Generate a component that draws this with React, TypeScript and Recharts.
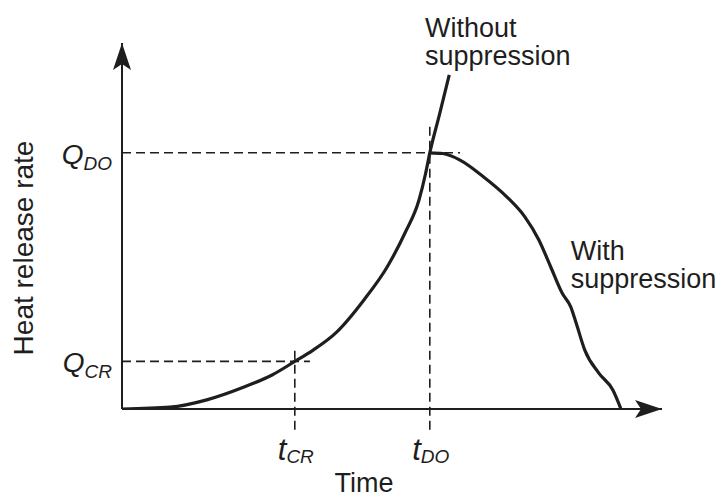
import React from 'react';
import { ComposedChart, Line, XAxis, YAxis, ReferenceLine, ReferenceDot } from 'recharts';

// ---- data (time and heat release rate in relative units, 0–100) ----
const growthTime = [0, 8.9, 15.7, 22.6, 27.8, 32, 35.4, 39.6, 44.8, 49.1, 52.4, 55.0, 56.2, 57, 58.8, 60.6];
const growthRate = [0, 0.5, 2.5, 6.0, 9.3, 13, 16.1, 20.8, 29.8, 38.8, 48.1, 57.1, 64.2, 70, 80.5, 91.3];

const suppressedTime = [57, 59.4, 62.6, 66.8, 71.3, 74.6, 77.2, 79.4, 81.5, 83.1, 84.1, 85.7, 88.3, 90.9, 92.4];
const suppressedRate = [70, 69.8, 68.0, 63.6, 57.9, 52.5, 46.2, 38.8, 31.7, 27.9, 23.5, 16.1, 9.8, 5.2, 0];

const criticalTimes = [32, 57];
const criticalTimeLabels = ['CR', 'DO'];
const criticalRates = [13, 70];
const criticalRateLabels = ['CR', 'DO'];

const axisMax = 100;

const withoutSuppression = growthTime.map((t, i) => ({ t, q: growthRate[i] }));
const withSuppression = suppressedTime.map((t, i) => ({ t, q: suppressedRate[i] }));

const FONT = '"Liberation Sans", Arial, Helvetica, sans-serif';
const INK = '#1e1e1e';

const ArrowUp = (p: any) => (
  <polygon
    points={`${p.cx},${p.cy} ${p.cx - 9},${p.cy + 27} ${p.cx},${p.cy + 21} ${p.cx + 9},${p.cy + 27}`}
    fill={INK}
  />
);
const ArrowRight = (p: any) => (
  <polygon
    points={`${p.cx},${p.cy} ${p.cx - 27},${p.cy - 9} ${p.cx - 21},${p.cy} ${p.cx - 27},${p.cy + 9}`}
    fill={INK}
  />
);

const TwoLine = (lines: string[]) => (p: any) => (
  <text x={p.cx} y={p.cy} fontFamily={FONT} fontSize={27} fill={INK}>
    {lines.map((l, i) => (
      <tspan key={i} x={p.cx} dy={i === 0 ? 0 : 28}>
        {l}
      </tspan>
    ))}
  </text>
);

const TimeTick = (props: any) => {
  const { x, y, payload } = props;
  const i = criticalTimes.indexOf(payload.value);
  return (
    <text x={x + 1} y={y + 51} textAnchor="middle" fontFamily={FONT} fontStyle="italic" fill={INK}>
      <tspan fontSize={31}>t</tspan>
      <tspan fontSize={19} dy={3}>{criticalTimeLabels[i]}</tspan>
    </text>
  );
};

const RateTick = (props: any) => {
  const { x, y, payload } = props;
  const i = criticalRates.indexOf(payload.value);
  return (
    <text x={x - 10} y={y + 11} textAnchor="end" fontFamily={FONT} fontStyle="italic" fill={INK}>
      <tspan fontSize={28}>Q</tspan>
      <tspan fontSize={19} dy={6}>{criticalRateLabels[i]}</tspan>
    </text>
  );
};

const dash = { stroke: INK, strokeWidth: 1.6, strokeDasharray: '9 5' };

export default function App() {
  return (
    <div style={{ position: 'absolute', left: 0, top: 0, width: 721, height: 497, background: '#fff' }}>
      <ComposedChart width={721} height={497} margin={{ top: 43, right: 59, bottom: 0, left: 0 }}>
        <XAxis
          type="number"
          dataKey="t"
          domain={[0, axisMax]}
          ticks={criticalTimes}
          tick={<TimeTick />}
          tickLine={false}
          tickSize={0}
          tickMargin={0}
          height={88}
          allowDataOverflow
          axisLine={{ stroke: INK, strokeWidth: 2 }}
          label={{
            content: (p: any) => {
              const vb = p.viewBox;
              return (
                <text x={vb.x + 242} y={vb.y + 83} textAnchor="middle" fontFamily={FONT} fontSize={27} fill={INK}>
                  Time
                </text>
              );
            },
          }}
        />
        <YAxis
          type="number"
          dataKey="q"
          domain={[0, axisMax]}
          ticks={criticalRates}
          tick={<RateTick />}
          tickLine={false}
          tickSize={0}
          tickMargin={0}
          width={122}
          allowDataOverflow
          axisLine={{ stroke: INK, strokeWidth: 2 }}
          label={{
            content: (p: any) => {
              const vb = p.viewBox;
              const cx = vb.x + 33;
              const cy = vb.y + 205;
              return (
                <text
                  transform={`translate(${cx},${cy}) rotate(-90)`}
                  textAnchor="middle"
                  fontFamily={FONT}
                  fontSize={28}
                  fill={INK}
                >
                  Heat release rate
                </text>
              );
            },
          }}
        />

        <ReferenceLine segment={[{ x: 0, y: criticalRates[1] }, { x: 62.6, y: criticalRates[1] }]} ifOverflow="visible" {...dash} />
        <ReferenceLine segment={[{ x: 0, y: criticalRates[0] }, { x: 34.8, y: criticalRates[0] }]} ifOverflow="visible" {...dash} />
        <ReferenceLine segment={[{ x: criticalTimes[0], y: -5.7 }, { x: criticalTimes[0], y: 16.9 }]} ifOverflow="visible" {...dash} />
        <ReferenceLine segment={[{ x: criticalTimes[1], y: -5.7 }, { x: criticalTimes[1], y: 78.4 }]} ifOverflow="visible" {...dash} />

        <Line
          data={withoutSuppression}
          dataKey="q"
          type="monotone"
          stroke={INK}
          strokeWidth={3.2}
          dot={false}
          activeDot={false}
          isAnimationActive={false}
        />
        <Line
          data={withSuppression}
          dataKey="q"
          type="monotone"
          stroke={INK}
          strokeWidth={3.2}
          dot={false}
          activeDot={false}
          isAnimationActive={false}
        />

        <ReferenceDot x={0} y={axisMax} r={0} ifOverflow="visible" shape={ArrowUp} />
        <ReferenceDot x={axisMax} y={0} r={0} ifOverflow="visible" shape={ArrowRight} />
        <ReferenceDot x={56.1} y={101.6} r={0} ifOverflow="visible" shape={TwoLine(['Without', 'suppression'])} />
        <ReferenceDot x={83.1} y={40.7} r={0} ifOverflow="visible" shape={TwoLine(['With', 'suppression'])} />
      </ComposedChart>
    </div>
  );
}
